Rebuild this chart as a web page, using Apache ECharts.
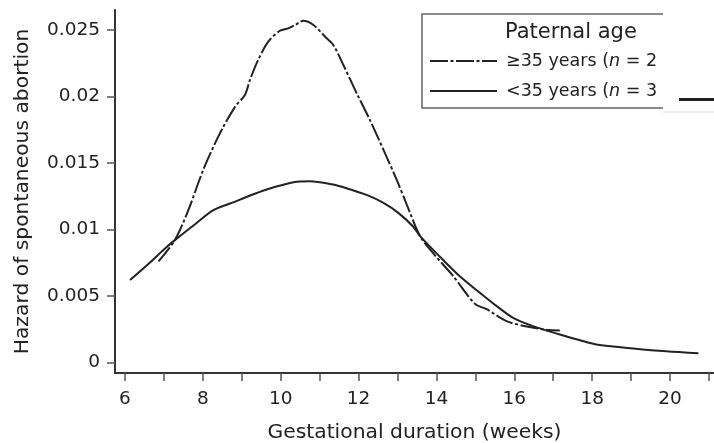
<!DOCTYPE html>
<html>
<head>
<meta charset="utf-8">
<script src="https://cdn.jsdelivr.net/npm/echarts@6/dist/echarts.min.js"></script>
<style>
html,body{margin:0;padding:0;background:#fff;}
#chart{width:714px;height:443px;}
</style>
</head>
<body>
<div id="chart"></div>
<script>
// Paternal age >=35 years (dash-dot line)
var weeksOld = [6.86, 7.28, 7.63, 8.01, 8.44, 8.83, 9.08, 9.21, 9.42, 9.68, 9.98, 10.19, 10.37, 10.58, 10.84, 11.18, 11.35, 11.61, 11.95, 12.29, 12.64, 12.98, 13.24, 13.58, 13.92, 14.43, 14.99, 15.29, 15.8, 16.32, 16.83, 17.17];
var hazardOld = [0.0076, 0.0092, 0.01148, 0.01449, 0.01725, 0.01925, 0.02013, 0.02126, 0.02276, 0.02414, 0.02496, 0.02514, 0.02539, 0.02571, 0.02539, 0.02439, 0.02389, 0.02238, 0.02026, 0.01825, 0.01599, 0.01374, 0.01186, 0.0095, 0.0082, 0.0065, 0.0044, 0.0040, 0.0031, 0.0027, 0.00245, 0.0024];
// Paternal age <35 years (solid line)
var weeksYoung = [6.13, 6.6, 7.0, 7.28, 7.8, 8.27, 8.74, 9.3, 9.68, 10.33, 10.75, 11.31, 11.69, 12.25, 12.64, 13.02, 13.4, 13.58, 14.09, 14.6, 15.12, 15.55, 15.97, 16.48, 17.17, 17.69, 18.11, 19.06, 19.9, 20.73];
var hazardYoung = [0.0062, 0.0074, 0.0085, 0.0092, 0.0104, 0.01145, 0.0120, 0.01265, 0.01305, 0.01355, 0.01363, 0.0134, 0.0131, 0.01255, 0.0120, 0.01125, 0.01023, 0.0095, 0.00795, 0.00648, 0.00523, 0.00423, 0.00335, 0.00273, 0.0021, 0.00166, 0.00135, 0.00105, 0.00083, 0.00068];

var xTicks = [6, 7, 8, 9, 10, 11, 12, 13, 14, 15, 16, 17, 18, 19, 20, 21];
var xLabels = [6, 8, 10, 12, 14, 16, 18, 20];
var yTicks = [0, 0.005, 0.01, 0.015, 0.02, 0.025];

var legendOld = '≥35 years ({i|n} = 2';
var legendYoung = '<35 years ({i|n} = 3';

function pairs(xs, ys) {
  var out = [];
  for (var i = 0; i < xs.length; i++) out.push([xs[i], ys[i]]);
  return out;
}

var FONT = 'DejaVu Sans';
var chart = echarts.init(document.getElementById('chart'), null, {renderer: 'canvas'});
chart.setOption({
  animation: false,
  backgroundColor: '#fff',
  title: {
    text: 'Paternal age',
    left: 505,
    top: 22,
    padding: 0,
    z: 10,
    textStyle: {fontFamily: FONT, fontSize: 21, fontWeight: 'normal', color: '#222'}
  },
  legend: {
    orient: 'vertical',
    left: 422,
    top: 14,
    padding: [38, 60, 8, 7],
    itemWidth: 67,
    itemHeight: 14,
    itemGap: 12,
    borderColor: '#666',
    borderWidth: 1.5,
    borderRadius: 0,
    backgroundColor: '#fff',
    itemStyle: {opacity: 0},
    data: [
      {name: legendOld},
      {name: legendYoung}
    ],
    textStyle: {
      fontFamily: FONT, fontSize: 17.5, color: '#222', padding: [0, 0, 0, 4],
      rich: {i: {fontFamily: FONT, fontSize: 17.5, fontStyle: 'italic', color: '#222'}}
    }
  },
  grid: {left: 115, right: 0, top: 10, bottom: 70, containLabel: false, outerBoundsMode: 'none'},
  xAxis: {
    type: 'value',
    min: 5.743,
    max: 21.13,
    name: 'Gestational duration (weeks)',
    nameLocation: 'middle',
    nameGap: 50,
    nameTextStyle: {fontFamily: FONT, fontSize: 20.3, color: '#222'},
    axisLine: {show: true, onZero: false, lineStyle: {color: '#333', width: 2}},
    axisTick: {show: true, customValues: xTicks, length: 8, lineStyle: {color: '#555', width: 1.5}},
    axisLabel: {customValues: xLabels, margin: 17, fontFamily: FONT, fontSize: 18.5, color: '#222'},
    splitLine: {show: false}
  },
  yAxis: {
    type: 'value',
    min: -0.0008,
    max: 0.02652,
    name: 'Hazard of spontaneous abortion',
    nameLocation: 'middle',
    nameGap: 82,
    nameTextStyle: {fontFamily: FONT, fontSize: 20.3, color: '#222'},
    axisLine: {show: true, onZero: false, lineStyle: {color: '#333', width: 2}},
    axisTick: {show: true, customValues: yTicks, length: 8, lineStyle: {color: '#555', width: 1.5}},
    axisLabel: {customValues: yTicks, margin: 15, fontFamily: FONT, fontSize: 18.5, color: '#222'},
    splitLine: {show: false}
  },
  series: [
    {
      name: legendOld,
      type: 'line',
      data: pairs(weeksOld, hazardOld),
      smooth: 0.3,
      symbol: 'none',
      showSymbol: false,
      lineStyle: {color: '#222', width: 2, type: [18, 2.5, 3, 2.5]},
      itemStyle: {color: '#222'}
    },
    {
      name: legendYoung,
      type: 'line',
      data: pairs(weeksYoung, hazardYoung),
      smooth: 0.3,
      symbol: 'none',
      showSymbol: false,
      lineStyle: {color: '#222', width: 2, type: 'solid'},
      itemStyle: {color: '#222'}
    }
  ],
  graphic: [
    {type: 'rect', left: 663, top: 0, shape: {width: 51, height: 111}, style: {fill: '#fff'}, z: 100},
    {type: 'rect', left: 663, top: 111.5, shape: {width: 51, height: 1}, style: {fill: '#ddd'}, z: 100},
    {type: 'rect', left: 679, top: 98, shape: {width: 35, height: 3}, style: {fill: '#222'}, z: 101}
  ]
});
</script>
</body>
</html>
